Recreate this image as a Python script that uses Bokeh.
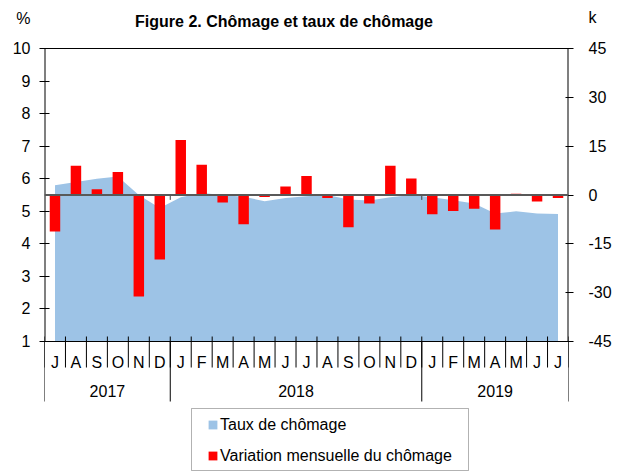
from bokeh.plotting import figure
from bokeh.models import (Range1d, LinearAxis, FixedTicker, ColumnDataSource, LabelSet, Label,
                          Legend, LegendItem, Span, BoxAnnotation)
from bokeh.core.properties import value
from bokeh.embed import file_html
from bokeh.resources import INLINE

# ---------------- data ----------------
months = ["J", "A", "S", "O", "N", "D",
          "J", "F", "M", "A", "M", "J", "J", "A", "S", "O", "N", "D",
          "J", "F", "M", "A", "M", "J", "J"]
years = ["2017", "2018", "2019"]
year_bounds = [0, 6, 18, 25]          # month-index boundaries of each year
taux = [5.8, 5.9, 6.0, 6.07, 5.5, 5.1,
        5.43, 5.56, 5.5, 5.45, 5.31, 5.41, 5.46, 5.5, 5.36, 5.33, 5.43, 5.5,
        5.43, 5.34, 5.24, 4.93, 5.0, 4.93, 4.92]
variation = [-11.2, 9.0, 1.8, 7.1, -31.2, -19.8,
             16.9, 9.3, -2.3, -9.0, -0.6, 2.6, 5.8, -0.9, -9.9, -2.6, 9.0, 5.1,
             -5.9, -4.9, -4.2, -10.6, 0.4, -2.0, -0.9]
left_ticks = [1, 2, 3, 4, 5, 6, 7, 8, 9, 10]
left_tick_labels = ["1", "2", "3", "4", "5", "6", "7", "8", "9", "10"]
right_ticks = [-45, -30, -15, 0, 15, 30, 45]
right_tick_labels = ["-45", "-30", "-15", "0", "15", "30", "45"]
left_unit = "%"
right_unit = "k"
title_text = "Figure 2. Chômage et taux de chômage"
series_names = ["Taux de chômage", "Variation mensuelle du chômage"]

# ---------------- layout constants ----------------
W, H = 618, 471
PX_L, PX_R = 44, 568        # plot box left / right (pixels)
PX_T, PX_B = 48, 341        # plot box top / bottom (pixels)
PCT_MIN, PCT_MAX = 1, 10
K_MIN, K_MAX = -45, 45
n = len(months)
ppx = (PX_R - PX_L) / n                    # px per month
ppy = (PX_B - PX_T) / (PCT_MAX - PCT_MIN)  # px per percent


def xd(px):
    return (px - PX_L) / ppx


def yd(py):
    return PCT_MIN + (PX_B - py) / ppy


def pct_to_k(v):
    return K_MIN + (v - PCT_MIN) * (K_MAX - K_MIN) / (PCT_MAX - PCT_MIN)


FONT = "Liberation Sans"
BLUE = "#9DC3E6"
RED = "#FF0000"
BLACK = "black"

xs = [i + 0.5 for i in range(n)]
y_top, y_bot = yd(0), yd(H)

p = figure(width=W, height=H, x_range=Range1d(0, n), y_range=Range1d(y_bot, y_top),
           output_backend="svg", toolbar_location=None,
           min_border_left=PX_L, min_border_right=W - PX_R, min_border_top=0, min_border_bottom=0)
p.extra_y_ranges = {"k": Range1d(pct_to_k(y_bot), pct_to_k(y_top))}
p.xgrid.visible = False
p.ygrid.visible = False
p.xaxis.visible = False
p.outline_line_color = None
p.background_fill_color = "white"
p.border_fill_color = "white"

src = ColumnDataSource(dict(x=xs, taux=taux, var=variation))
area = p.varea(x="x", y1=PCT_MIN, y2="taux", source=src, fill_color=BLUE)
bars = p.vbar(x="x", top="var", bottom=0, width=0.5, source=src,
              fill_color=RED, line_color=None, y_range_name="k")

# small ticks on zero line at year boundaries
inner_b = year_bounds[1:-1]
p.segment(x0=inner_b, y0=[0] * len(inner_b), x1=inner_b, y1=[-1.5] * len(inner_b),
          y_range_name="k", line_color="#404040", line_width=1)
p.add_layout(Span(location=0, dimension="width", y_range_name="k",
                  line_color="#595959", line_width=2))

# plot box
p.add_layout(Span(location=PCT_MAX, dimension="width", line_color=BLACK, line_width=1))
p.add_layout(Span(location=PCT_MIN, dimension="width", line_color=BLACK, line_width=1))
p.segment(x0=[0, n], y0=[PCT_MIN, PCT_MIN], x1=[0, n], y1=[PCT_MAX, PCT_MAX],
          line_color=BLACK, line_width=2)

# month / year separators
p.segment(x0=list(range(n + 1)), y0=[yd(PX_B - 5)] * (n + 1),
          x1=list(range(n + 1)), y1=[yd(PX_B + 26)] * (n + 1),
          line_color=BLACK, line_width=1)
p.segment(x0=year_bounds, y0=[PCT_MIN] * len(year_bounds),
          x1=year_bounds, y1=[yd(PX_B + 60)] * len(year_bounds),
          line_color=BLACK, line_width=1)

# left axis ("%" is an extra unmarked tick label at the top)
pct_unit_pos = yd(18.3)
ya = p.yaxis[0]
ya.ticker = FixedTicker(ticks=left_ticks + [pct_unit_pos], minor_ticks=left_ticks)
ya.major_label_overrides = {**{t: s for t, s in zip(left_ticks, left_tick_labels)},
                            pct_unit_pos: left_unit}
ya.axis_line_color = None
ya.major_tick_line_color = None
ya.major_tick_in = 0
ya.major_tick_out = 5
ya.minor_tick_in = 5
ya.minor_tick_out = 5
ya.minor_tick_line_color = BLACK
ya.major_label_standoff = 9
ya.major_label_text_font = FONT
ya.major_label_text_font_size = "16px"
ya.major_label_text_color = BLACK

# right axis
k_unit_pos = pct_to_k(yd(16.7))
ra = LinearAxis(y_range_name="k",
                ticker=FixedTicker(ticks=right_ticks + [k_unit_pos], minor_ticks=right_ticks),
                major_label_overrides={**{t: s for t, s in zip(right_ticks, right_tick_labels)},
                                       k_unit_pos: right_unit})
ra.axis_line_color = None
ra.major_tick_line_color = None
ra.major_tick_in = 0
ra.major_tick_out = 5
ra.minor_tick_in = 3
ra.minor_tick_out = 5
ra.minor_tick_line_color = BLACK
ra.major_label_standoff = 15
ra.major_label_text_font = FONT
ra.major_label_text_font_size = "16px"
ra.major_label_text_color = BLACK
p.add_layout(ra, "right")

# month letters and years
msrc = ColumnDataSource(dict(x=xs, text=months))
p.add_layout(LabelSet(x="x", y=yd(361.7), text="text", source=msrc,
                      text_align="center", text_baseline="middle",
                      text_font=value(FONT), text_font_size=value("16px"), text_color=BLACK))
ysrc = ColumnDataSource(dict(x=[(a + b) / 2 for a, b in zip(year_bounds[:-1], year_bounds[1:])],
                             text=years))
p.add_layout(LabelSet(x="x", y=yd(390.7), text="text", source=ysrc,
                      text_align="center", text_baseline="middle",
                      text_font=value(FONT), text_font_size=value("16px"), text_color=BLACK))

# title
p.add_layout(Label(x=xd(283.5), y=yd(20.7), text=title_text, text_align="center",
                   text_baseline="middle", text_font=FONT, text_font_size="16px",
                   text_font_style="bold", text_color=BLACK))

# legend
p.add_layout(BoxAnnotation(left=xd(191), right=xd(468), top=yd(408), bottom=yd(470),
                           fill_alpha=0, line_color=BLACK, line_width=1))
legend = Legend(items=[LegendItem(label=series_names[0], renderers=[area]),
                       LegendItem(label=series_names[1], renderers=[bars])],
                location=(207 - PX_L, H - 465.5), padding=0, margin=0, spacing=11,
                label_height=20, glyph_height=11, glyph_width=11, label_standoff=2,
                border_line_alpha=0, background_fill_alpha=0,
                label_text_font=FONT, label_text_font_size="16px", label_text_color=BLACK)
p.add_layout(legend, "center")

open("out.html", "w").write(file_html(p, INLINE))
